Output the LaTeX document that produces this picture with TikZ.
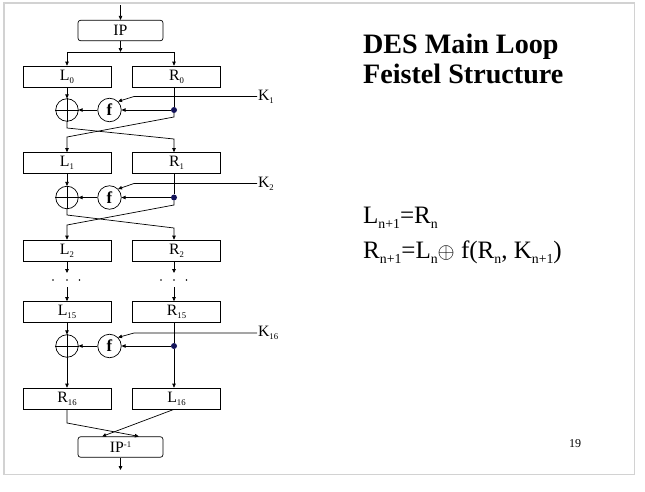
\documentclass[tikz,border=0pt]{standalone}
\usepackage{fontspec}
\usepackage{graphicx}
\setmainfont{Liberation Serif}
\usetikzlibrary{arrows.meta}

\definecolor{navy}{RGB}{20,20,90}
% small lowered / raised indices, as on the slide
\newcommand{\idx}[1]{\raisebox{-0.45ex}{\scalebox{0.55}{#1}}}
\newcommand{\pwr}[1]{\raisebox{0.7ex}{\scalebox{0.55}{#1}}}

\begin{document}
\begin{tikzpicture}[
  x=0.04cm, y=-0.04cm,
  % register halves; permutation boxes get round corners
  half/.style={
    rectangle, draw=black, line width=0.8pt,
    minimum width=3.52cm, minimum height=0.84cm, inner sep=0pt,
    font=\fontsize{18}{18}\selectfont
  },
  perm/.style={half, rounded corners=3pt, minimum width=3.4cm, minimum height=0.82cm},
  xorop/.style={circle, draw, line width=0.8pt, minimum size=0.9cm, inner sep=0pt},
  fbox/.style={circle, draw, line width=0.8pt, minimum size=0.94cm, inner sep=0pt,
    font=\bfseries\fontsize{19}{19}\selectfont},
  junc/.style={circle, fill=navy, inner sep=0pt, minimum size=0.24cm},
  key/.style={anchor=west, inner sep=1pt, font=\fontsize{18}{18}\selectfont},
  title/.style={anchor=base west, inner sep=0pt, font=\bfseries\fontsize{32}{32}\selectfont},
  eqn/.style={anchor=base west, inner sep=0pt, font=\fontsize{28.5}{28.5}\selectfont},
  arr/.style={-{Triangle[length=4.5pt,width=4pt]}, line width=0.8pt},
  wire/.style={line width=0.8pt},
  frame/.style={draw=gray!35, line width=1.3pt},
]
\useasboundingbox (0,0) rectangle (645,492);
\draw[frame] (4,3) rectangle (634.5,474.5);

%% ── Initial permutation ───────────────────────────────────────────────────
\coordinate (in)    at (120.5,5);
\node[perm] (ip)    at (120.5,30.5) {IP};
\coordinate (split) at (120.5,52);

%% ── Round 1 ───────────────────────────────────────────────────────────────
\node[half]  (l0) at (67,76.5)    {L\idx{0}};
\node[half]  (r0) at (176.5,76.5) {R\idx{0}};
\node[xorop] (x1) at (67,110)     {};
\node[fbox]  (f1) at (109.5,110)  {f};
\node[junc]  (d1) at (174,110)    {};
\node[key]   (k1) at (257,96.5)   {K\idx{1}};

%% ── Round 2 ───────────────────────────────────────────────────────────────
\node[half]  (l1) at (67,163)     {L\idx{1}};
\node[half]  (r1) at (176.5,163)  {R\idx{1}};
\node[xorop] (x2) at (67,197.5)   {};
\node[fbox]  (f2) at (109.5,197.5) {f};
\node[junc]  (d2) at (174,197.5)  {};
\node[key]   (k2) at (257,183.5)  {K\idx{2}};

\node[half]  (l2) at (67,250.5)    {L\idx{2}};
\node[half]  (r2) at (176.5,250.5) {R\idx{2}};

%% ── Rounds 3..15 left out ─────────────────────────────────────────────────
\coordinate (ldt) at (67,273);
\coordinate (ldb) at (67,287);
\coordinate (rdt) at (174,273);
\coordinate (rdb) at (174,287);
\fill (53,280) circle (1pt) (67,280) circle (1pt) (79.5,280) circle (1pt);
\fill (161,280) circle (1pt) (174,280) circle (1pt) (186.5,280) circle (1pt);

%% ── Round 16 (no swap) ────────────────────────────────────────────────────
\node[half]  (l15) at (67,312)    {L\idx{15}};
\node[half]  (r15) at (176.5,312) {R\idx{15}};
\node[xorop] (x16) at (67,346)    {};
\node[fbox]  (f16) at (109.5,346) {f};
\node[junc]  (d16) at (174,346)   {};
\node[key]   (k16) at (257,333)   {K\idx{16}};

\node[half]  (r16) at (67,398.5)    {R\idx{16}};
\node[half]  (l16) at (176.5,398.5) {L\idx{16}};

%% ── Inverse permutation ───────────────────────────────────────────────────
\node[perm] (ipinv) at (120.5,447) {IP\pwr{-1}};
\coordinate (out)   at (120.5,470);

%% ── Text on the right ─────────────────────────────────────────────────────
\node[title] (t1) at (363,53) {DES Main Loop};
\node[title] (t2) at (363,83) {Feistel Structure};
\node[eqn]   (e1) at (363,223) {L\idx{n+1}=R\idx{n}};
\node[eqn]   (e2) at (363,258) {R\idx{n+1}=L\idx{n}$\oplus$ f(R\idx{n}, K\idx{n+1})};
\node[anchor=base west, inner sep=0pt, font=\fontsize{13.7}{13.7}\selectfont] (pg) at (569,447.5) {19};

%% ── Arrows ────────────────────────────────────────────────────────────────
\draw[arr] (in) -- (ip);
\draw[arr] (ip) -- (split);
\draw[arr] (split) -| (l0.north);
\draw[arr] (split) -| (r0.north -| d1);

% round 1
\draw[wire] (x1.north) -- (x1.south) (x1.west) -- (x1.east);
\draw[arr]  (l0) -- (x1);
\draw[wire] (r0.south -| d1) -- (d1);
\draw[arr]  (d1) -- (f1);
\draw[arr]  (f1) -- (x1);
\draw[arr]  (k1.west) -- (134,96.5) -- (f1.45);
\draw[arr]  (x1.south) -- (67,128) -- (174,139) -- (r1.north -| d1);
\draw[arr]  (d1) -- (174,117) -- (67,137) -- (l1.north);

% round 2
\draw[wire] (x2.north) -- (x2.south) (x2.west) -- (x2.east);
\draw[arr]  (l1) -- (x2);
\draw[wire] (r1.south -| d2) -- (d2);
\draw[arr]  (d2) -- (f2);
\draw[arr]  (f2) -- (x2);
\draw[arr]  (k2.west) -- (134,183.5) -- (f2.45);
\draw[arr]  (x2.south) -- (67,215) -- (174,228) -- (r2.north -| d2);
\draw[arr]  (d2) -- (174,205) -- (67,225) -- (l2.north);

% skipped rounds
\draw[arr] (l2) -- (ldt);
\draw[arr] (r2.south -| rdt) -- (rdt);
\draw[arr] (ldb) -- (l15);
\draw[arr] (rdb) -- (r15.north -| rdb);

% round 16
\draw[wire] (x16.north) -- (x16.south) (x16.west) -- (x16.east);
\draw[arr]  (l15) -- (x16);
\draw[wire] (r15.south -| d16) -- (d16);
\draw[arr]  (d16) -- (f16);
\draw[arr]  (f16) -- (x16);
\draw[arr]  (k16.west) -- (134,333) -- (f16.45);
\draw[arr]  (x16) -- (r16);
\draw[arr]  (d16) -- (l16.north -| d16);

% into IP^-1
\draw[arr] (r16.south) -- (67,423) -- (ipinv.30);
\draw[arr] (l16.south -| d16) -- (ipinv.150);
\draw[arr] (ipinv) -- (out);

\end{tikzpicture}
\end{document}
